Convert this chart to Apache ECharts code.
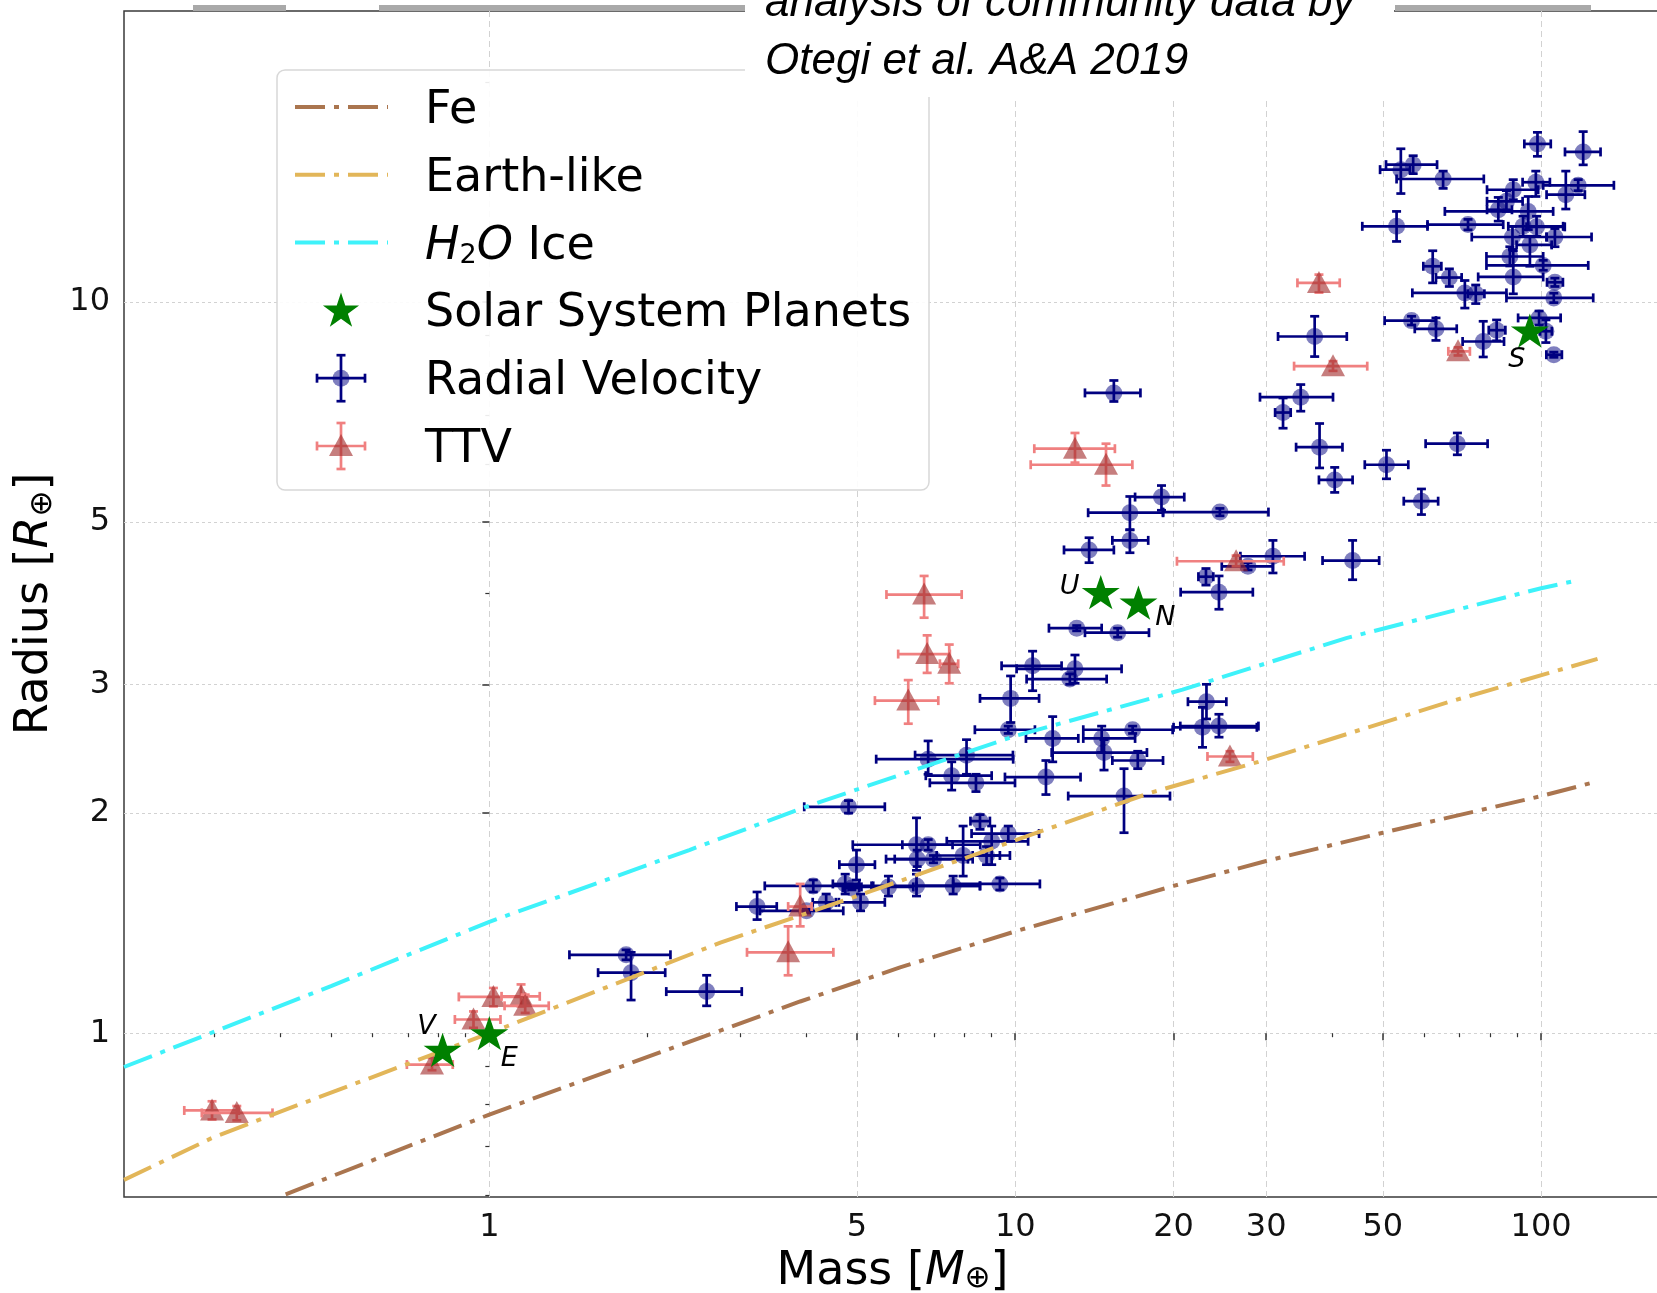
<!DOCTYPE html>
<html>
<head>
<meta charset="utf-8">
<script src="https://cdn.jsdelivr.net/npm/echarts@6/dist/echarts.min.js"></script>
<style>
  html, body { margin: 0; padding: 0; background: #fff; }
  #chart { width: 1657px; height: 1293px; }
</style>
</head>
<body>
<div id="chart"></div>
<script>
// axis ranges and ticks (Earth units)
var massMin = 0.202, massMax = 169;
var radMin = 0.597, radMax = 25;
var massTicks = [1, 5, 10, 20, 30, 50, 100];
var massMinorTicks = [0.3, 0.4, 0.5, 0.6, 0.7, 0.8, 0.9, 2, 3, 4, 6, 7, 8, 9, 40, 60, 70, 80, 90];
var radTicks = [1, 2, 3, 5, 10];
var radMinorTicks = [0.6, 0.7, 0.8, 0.9, 4, 6, 7, 8, 9, 20];

// composition models
var feMass = [0.41, 1, 3.9, 6.04, 10, 20, 30, 50, 100, 128];
var feRadius = [0.602, 0.774, 1.105, 1.23, 1.378, 1.59, 1.72, 1.88, 2.11, 2.21];
var earthMass = [0.202, 0.297, 0.38, 1, 2.75, 5, 11, 18, 29, 67, 128];
var earthRadius = [0.63, 0.719, 0.77, 1.0, 1.33, 1.54, 1.88, 2.13, 2.35, 2.84, 3.25];
var iceMass = [0.202, 0.5, 1, 2.4, 4, 10, 20.8, 42.6, 100, 117];
var iceRadius = [0.899, 1.16, 1.42, 1.78, 2.04, 2.55, 2.95, 3.47, 4.06, 4.16];

// solar system planets
var planetNames = ['V', 'E', 'U', 'N', 'S'];
var planetMass = [0.815, 1, 14.54, 17.15, 95.16];
var planetRadius = [0.949, 1, 4.01, 3.88, 9.14];

// radial velocity planets: value, lower and upper end of the error bars
var rvMass = [98.4, 120.2, 54.1, 57.1, 65.1, 88.5, 97.7, 111.4, 117.6, 85.9, 82.9, 94.5, 53.1, 72.6, 92.4, 98, 88.2, 106.2, 95.2, 87.2, 100.9, 88.5, 106.2, 105.7, 62.2, 66.9, 71.6, 75.1, 56.7, 63.1, 77.6, 82.3, 99.1, 102.1, 105.7, 37.1, 15.4, 34.9, 32.3, 37.9, 50.8, 69.3, 40.5, 59.2, 18.97, 16.52, 24.5, 16.52, 13.82, 30.9, 27.7, 43.8, 23.05, 24.4, 13.09, 15.66, 10.79, 12.99, 12.7, 9.8, 9.7, 11.78, 14.6, 16.72, 14.75, 17.1, 6.83, 8.08, 7.57, 8.42, 11.44, 16.1, 23.1, 22.7, 24.4, 4.82, 8.57, 9.7, 9.02, 6.49, 6.83, 7.96, 8.82, 6.51, 6.99, 4.99, 4.13, 4.75, 4.89, 5.74, 6.49, 7.62, 9.35, 3.23, 4.01, 4.37, 5.08, 1.82, 1.86, 2.59];
var rvRadius = [16.45, 16.04, 15.17, 15.41, 14.73, 14.24, 14.58, 14.02, 14.44, 13.73, 13.37, 13.3, 12.69, 12.76, 12.69, 12.67, 12.27, 12.27, 11.97, 11.54, 11.22, 10.82, 10.64, 10.13, 11.19, 10.8, 10.29, 10.26, 9.43, 9.19, 8.83, 9.15, 9.51, 9.12, 8.47, 8.97, 7.51, 7.41, 7.06, 6.33, 5.99, 6.4, 5.71, 5.34, 5.41, 5.15, 5.16, 4.72, 4.58, 4.49, 4.35, 4.43, 4.21, 4.01, 3.58, 3.53, 3.18, 3.15, 3.05, 2.87, 2.6, 2.53, 2.53, 2.6, 2.42, 2.36, 2.37, 2.4, 2.25, 2.2, 2.24, 2.11, 2.84, 2.62, 2.63, 2.04, 1.95, 1.875, 1.83, 1.81, 1.81, 1.75, 1.75, 1.73, 1.73, 1.7, 1.59, 1.6, 1.58, 1.585, 1.59, 1.59, 1.6, 1.49, 1.47, 1.51, 1.51, 1.28, 1.21, 1.14];
var rvMassLow = [92.9, 111, 49.4, 50.7, 53.1, 78.9, 92.2, 102.4, 100.9, 78.9, 78.9, 65.6, 45.7, 60.8, 86.6, 93.8, 73.8, 102.4, 89.8, 78.7, 78.7, 75.9, 102.6, 85.9, 59.7, 63.1, 56.9, 72.5, 50.4, 57.5, 70.9, 79.5, 90.4, 99.5, 102.3, 31.6, 13.57, 29.2, 31.2, 34.2, 46.2, 60.3, 37.8, 54.8, 16.9, 13.76, 19.1, 15.3, 12.38, 26.8, 24.7, 38.4, 22.3, 20.63, 11.59, 13.57, 9.42, 10.06, 10.51, 8.57, 8.38, 10.48, 13.47, 13.47, 11.73, 15.3, 5.44, 6.45, 6.76, 6.88, 9.56, 12.61, 21.3, 20, 20.6, 3.97, 8.22, 8.26, 7.41, 4.91, 6.1, 7.09, 8.3, 5.68, 5.9, 4.63, 3.34, 4.5, 4.7, 5.1, 5.37, 6.49, 7.62, 2.95, 3.27, 4.12, 4.56, 1.42, 1.61, 2.17];
var rvMassHigh = [104.3, 129.7, 56.3, 63.4, 77.8, 98.7, 103.9, 121.1, 137.5, 92.2, 88, 105.4, 60.8, 84.7, 110.1, 110.9, 102.4, 124.7, 104.7, 100.9, 122.9, 100.9, 110, 125.6, 64.6, 70.6, 85.9, 78, 63.1, 69.1, 85, 85.5, 108.9, 104.8, 109.5, 42.7, 17.3, 40.2, 33.4, 41.9, 55.9, 79.1, 43.8, 63.7, 20.96, 19.1, 30.3, 17.9, 15.4, 35.5, 30.9, 49.2, 23.8, 28.3, 14.6, 17.96, 12.25, 15.93, 14.92, 11.1, 10.9, 13.18, 16.9, 19.92, 17.8, 19.1, 9.91, 9.9, 9.02, 9.99, 13.31, 19.69, 25.2, 28.8, 29, 5.65, 8.95, 11.1, 10.58, 8.58, 7.6, 9.77, 9.35, 8.13, 8.3, 5.41, 5.33, 5.05, 5.05, 6.4, 8.57, 8.57, 11.14, 3.52, 4.71, 4.62, 5.65, 2.21, 2.16, 3.02];
var rvRadiusLow = [15.82, 15.4, 14.07, 14.98, 14.3, 13.8, 13.94, 13.4, 14.2, 13.3, 12.9, 12.56, 12.1, 12.55, 12.3, 12.3, 11.8, 11.9, 11.19, 11.2, 11.05, 10.26, 10.5, 9.98, 10.62, 10.5, 9.81, 9.95, 9.3, 8.86, 8.41, 8.85, 9.3, 8.8, 8.4, 8.42, 7.31, 7.09, 6.72, 5.93, 5.73, 6.18, 5.49, 5.12, 5.19, 4.88, 5.1, 4.54, 4.4, 4.26, 4.3, 4.17, 4.1, 3.8, 3.55, 3.48, 2.94, 3.01, 3.0, 2.66, 2.57, 2.35, 2.42, 2.57, 2.29, 2.3, 2.26, 2.26, 2.15, 2.14, 2.12, 1.88, 2.69, 2.46, 2.54, 2.0, 1.9, 1.83, 1.7, 1.67, 1.78, 1.64, 1.7, 1.69, 1.71, 1.62, 1.56, 1.55, 1.57, 1.54, 1.54, 1.55, 1.57, 1.43, 1.46, 1.48, 1.47, 1.26, 1.11, 1.09];
var rvRadiusHigh = [17.06, 17.1, 16.2, 15.85, 15.1, 14.7, 15.1, 15.1, 14.7, 14.2, 13.9, 13.94, 13.3, 12.97, 13.1, 13.1, 12.69, 12.6, 12.3, 11.9, 11.4, 11.75, 10.78, 10.28, 11.75, 11.1, 10.7, 10.55, 9.56, 9.51, 9.41, 9.45, 9.72, 9.45, 8.54, 9.56, 7.81, 7.71, 7.39, 6.82, 6.27, 6.62, 5.94, 5.55, 5.61, 5.42, 5.22, 4.88, 4.76, 4.72, 4.4, 4.72, 4.32, 4.22, 3.61, 3.58, 3.33, 3.29, 3.1, 3.08, 2.63, 2.71, 2.63, 2.63, 2.52, 2.43, 2.51, 2.52, 2.35, 2.26, 2.36, 2.3, 3.0, 2.79, 2.73, 2.08, 1.99, 1.92, 1.92, 1.97, 1.84, 1.92, 1.8, 1.78, 1.75, 1.78, 1.62, 1.65, 1.59, 1.64, 1.65, 1.64, 1.63, 1.56, 1.48, 1.55, 1.55, 1.3, 1.29, 1.2];

// transit timing variation planets
var ttvMass = [0.297, 0.331, 0.778, 0.933, 1.018, 1.149, 1.17, 3.9, 3.7, 6.26, 6.8, 7.49, 6.71, 12.99, 14.88, 26.3, 25.6, 40.2, 37.8, 69.5];
var ttvRadius = [0.784, 0.778, 0.906, 1.044, 1.121, 1.123, 1.09, 1.49, 1.29, 2.85, 3.3, 3.2, 3.98, 6.3, 5.99, 4.42, 2.39, 8.17, 10.62, 8.56];
var ttvMassLow = [0.263, 0.284, 0.697, 0.86, 0.875, 1.055, 1.069, 3.7, 3.09, 5.41, 5.99, 7.19, 5.69, 10.87, 10.7, 20.3, 23.2, 33.9, 34.4, 66.6];
var ttvMassHigh = [0.334, 0.387, 0.852, 1.05, 1.17, 1.247, 1.297, 4.1, 4.51, 7.14, 7.51, 7.79, 7.91, 15.47, 16.7, 32.4, 28.3, 46.7, 41.4, 73.2];
var ttvRadiusLow = [0.762, 0.76, 0.89, 1.017, 1.088, 1.088, 1.066, 1.4, 1.2, 2.65, 3.11, 3.01, 3.7, 6.03, 5.61, 4.35, 2.35, 8.05, 10.3, 8.45];
var ttvRadiusHigh = [0.807, 0.795, 0.925, 1.071, 1.153, 1.166, 1.129, 1.6, 1.4, 3.04, 3.5, 3.4, 4.22, 6.62, 6.4, 4.5, 2.43, 8.3, 10.9, 8.67];

var lg = Math.log10;
var FONT = 'DejaVu Sans';
var feColor = '#aa754f', earthColor = '#e2b659', iceColor = '#3ef2fa';
var rvColor = '#000080', ttvBarColor = '#f08080';
var dashDot = [30, 9, 5, 9];

function curve(mass, rad) {
  return mass.map(function (m, i) { return [lg(m), lg(rad[i])]; });
}

function errorRows(m, r, mLo, mHi, rLo, rHi) {
  return m.map(function (v, i) {
    return [lg(v), lg(r[i]), lg(mLo[i]), lg(mHi[i]), lg(rLo[i]), lg(rHi[i])];
  });
}

function seg(x1, y1, x2, y2, color) {
  return { type: 'line', shape: { x1: x1, y1: y1, x2: x2, y2: y2 }, style: { stroke: color, lineWidth: 2.7 } };
}

// error bars with caps, marker drawn on top
function errorBars(barColor, marker) {
  return function (params, api) {
    var x = api.value(0), y = api.value(1);
    var c = api.coord([x, y]);
    var xl = api.coord([api.value(2), y])[0], xh = api.coord([api.value(3), y])[0];
    var yl = api.coord([x, api.value(4)])[1], yh = api.coord([x, api.value(5)])[1];
    var cap = 4.5;
    return {
      type: 'group',
      children: [
        seg(xl, c[1], xh, c[1], barColor),
        seg(c[0], yl, c[0], yh, barColor),
        seg(xl, c[1] - cap, xl, c[1] + cap, barColor),
        seg(xh, c[1] - cap, xh, c[1] + cap, barColor),
        seg(c[0] - cap, yl, c[0] + cap, yl, barColor),
        seg(c[0] - cap, yh, c[0] + cap, yh, barColor),
        marker(c[0], c[1])
      ]
    };
  };
}

function rvMarker(cx, cy) {
  return { type: 'circle', shape: { cx: cx, cy: cy, r: 8.5 }, style: { fill: 'rgba(0,0,128,0.5)' } };
}
function ttvMarker(cx, cy) {
  return { type: 'polygon', shape: { points: [[cx, cy - 12], [cx - 12, cy + 10], [cx + 12, cy + 10]] },
    style: { fill: 'rgba(160,40,40,0.6)' } };
}

function tickFmt(v) { return String(Math.round(Math.pow(10, v))); }

var starPath = 'path://M0,-100L22.45,-30.9L95.1,-30.9L36.33,11.8L58.78,80.9L0,38.2L-58.78,80.9L-36.33,11.8L-95.1,-30.9L-22.45,-30.9Z';
var planetLabelOffset = { V: [-16, -23], E: [20, 26], U: [-31, -5], N: [27, 15], S: [-13, 29] };

var nameRich = {
  i: { fontStyle: 'italic', fontSize: 46, fontFamily: FONT, color: '#000', lineHeight: 46 },
  s: { fontSize: 31, fontFamily: FONT, color: '#000', lineHeight: 16, verticalAlign: 'bottom' }
};

// legend drawn by hand so the errorbar icons look like the original
function starPoints(cx, cy, R) {
  var pts = [];
  for (var k = 0; k < 10; k++) {
    var rr = k % 2 === 0 ? R : R * 0.382;
    var a = -Math.PI / 2 + k * Math.PI / 5;
    pts.push([cx + rr * Math.cos(a), cy + rr * Math.sin(a)]);
  }
  return pts;
}
function legendCross(cx, cy, color, lw) {
  var st = function () { return { stroke: color, lineWidth: lw }; };
  return [
    { type: 'line', shape: { x1: cx - 24, y1: cy, x2: cx + 24, y2: cy }, style: st(), z: 62 },
    { type: 'line', shape: { x1: cx, y1: cy - 23, x2: cx, y2: cy + 23 }, style: st(), z: 62 },
    { type: 'line', shape: { x1: cx - 24, y1: cy - 4.5, x2: cx - 24, y2: cy + 4.5 }, style: st(), z: 62 },
    { type: 'line', shape: { x1: cx + 24, y1: cy - 4.5, x2: cx + 24, y2: cy + 4.5 }, style: st(), z: 62 },
    { type: 'line', shape: { x1: cx - 4.5, y1: cy - 23, x2: cx + 4.5, y2: cy - 23 }, style: st(), z: 62 },
    { type: 'line', shape: { x1: cx - 4.5, y1: cy + 23, x2: cx + 4.5, y2: cy + 23 }, style: st(), z: 62 }
  ];
}

var legendX = 277, legendY = 70, rowY0 = 111, rowStep = 67.8, iconX = 341, textX = 425;
var legendFont = '46px "' + FONT + '"';
var graphics = [
  // faint slide remnants above the frame
  { type: 'rect', shape: { x: 193, y: 5, width: 93, height: 6 }, style: { fill: '#a9a9a9' }, z: 40 },
  { type: 'rect', shape: { x: 379, y: 5, width: 366, height: 6 }, style: { fill: '#a9a9a9' }, z: 40 },
  { type: 'rect', shape: { x: 1395, y: 5, width: 196, height: 6 }, style: { fill: '#a9a9a9' }, z: 40 },
  { type: 'rect', shape: { x: legendX, y: legendY, width: 652, height: 420, r: 8 },
    style: { fill: 'rgba(255,255,255,0.9)', stroke: '#d8d8d8', lineWidth: 1.5 }, z: 60 }
];
[['Fe', feColor], ['Earth-like', earthColor]].forEach(function (it, i) {
  var y = rowY0 + i * rowStep;
  graphics.push({ type: 'line', shape: { x1: 295, y1: y - 4, x2: 388, y2: y - 4 },
    style: { stroke: it[1], lineWidth: 4, lineDash: dashDot }, z: 61 });
  graphics.push({ type: 'text', x: textX, y: y, style: { text: it[0], font: legendFont, fill: '#000', verticalAlign: 'middle' }, z: 61 });
});
(function () {
  var y = rowY0 + 2 * rowStep;
  graphics.push({ type: 'line', shape: { x1: 295, y1: y - 4, x2: 388, y2: y - 4 },
    style: { stroke: iceColor, lineWidth: 4, lineDash: dashDot }, z: 61 });
  graphics.push({ type: 'text', x: textX, y: y, z: 61, style: {
    text: '{i|H}{s|2}{i|O}{n| Ice}', verticalAlign: 'middle', fill: '#000',
    rich: {
      i: { fontStyle: 'italic', fontSize: 46, fontFamily: FONT, lineHeight: 46, fill: '#000' },
      n: { fontSize: 46, fontFamily: FONT, lineHeight: 46, fill: '#000' },
      s: { fontSize: 27, fontFamily: FONT, lineHeight: 18, verticalAlign: 'bottom', fill: '#000' }
    }
  } });
  var ys = rowY0 + 3 * rowStep;
  graphics.push({ type: 'polygon', shape: { points: starPoints(iconX, ys - 3, 19) }, style: { fill: '#008000' }, z: 62 });
  graphics.push({ type: 'text', x: textX, y: ys, style: { text: 'Solar System Planets', font: legendFont, fill: '#000', verticalAlign: 'middle' }, z: 61 });
  var yr = rowY0 + 4 * rowStep;
  legendCross(iconX, yr - 4, rvColor, 2.7).forEach(function (g) { graphics.push(g); });
  graphics.push({ type: 'circle', shape: { cx: iconX, cy: yr - 4, r: 8.5 }, style: { fill: 'rgba(0,0,128,0.5)' }, z: 62 });
  graphics.push({ type: 'text', x: textX, y: yr, style: { text: 'Radial Velocity', font: legendFont, fill: '#000', verticalAlign: 'middle' }, z: 61 });
  var yt = rowY0 + 5 * rowStep;
  legendCross(iconX, yt - 4, ttvBarColor, 2.7).forEach(function (g) { graphics.push(g); });
  graphics.push({ type: 'polygon', shape: { points: [[iconX, yt - 16], [iconX - 12, yt + 6], [iconX + 12, yt + 6]] },
    style: { fill: 'rgba(160,40,40,0.6)' }, z: 62 });
  graphics.push({ type: 'text', x: textX, y: yt, style: { text: 'TTV', font: legendFont, fill: '#000', verticalAlign: 'middle' }, z: 61 });
})();
// pasted caption box
graphics.push({ type: 'rect', shape: { x: 745, y: 0, width: 649, height: 97 }, style: { fill: '#fff' }, z: 70 });
graphics.push({ type: 'text', x: 765, y: 4, style: { text: 'analysis of community data by',
  font: 'italic 44px "Liberation Sans"', fill: '#000', verticalAlign: 'middle' }, z: 71 });
graphics.push({ type: 'text', x: 765, y: 62, style: { text: 'Otegi et al. A&A 2019',
  font: 'italic 44px "Liberation Sans"', fill: '#000', verticalAlign: 'middle' }, z: 71 });

var chart = echarts.init(document.getElementById('chart'));

var option = {
  animation: false,
  backgroundColor: '#fff',
  grid: { left: 124, right: -4, top: 11, bottom: 96, outerBoundsMode: 'none',
    show: true, borderColor: '#3a3a3a', borderWidth: 1.5 },
  xAxis: [{
    type: 'value', min: lg(massMin), max: lg(massMax),
    axisLine: { show: false },
    axisTick: { show: true, customValues: massTicks.map(lg), length: 7, lineStyle: { color: '#333', width: 1.5 } },
    axisLabel: { customValues: massTicks.map(lg), formatter: tickFmt, fontSize: 32, fontFamily: FONT, color: '#111', margin: 15 },
    splitLine: { show: true, lineStyle: { color: '#d2d2d2', width: 1, type: [6, 4] } },
    name: 'Mass [{i|M}{s|⊕}]', nameLocation: 'middle', nameGap: 46,
    nameTextStyle: { fontSize: 46, fontFamily: FONT, color: '#000', rich: nameRich }
  }, {
    type: 'value', min: lg(massMin), max: lg(massMax), position: 'bottom',
    axisLine: { show: false }, axisLabel: { show: false }, splitLine: { show: false },
    axisTick: { show: true, customValues: massMinorTicks.map(lg), length: 4, lineStyle: { color: '#333', width: 1.2 } }
  }],
  yAxis: [{
    type: 'value', min: lg(radMin), max: lg(radMax),
    axisLine: { show: false },
    axisTick: { show: true, customValues: radTicks.map(lg), length: 7, lineStyle: { color: '#333', width: 1.5 } },
    axisLabel: { customValues: radTicks.map(lg), formatter: tickFmt, fontSize: 32, fontFamily: FONT, color: '#111', margin: 14,
      padding: [5, 0, 0, 0] },
    splitLine: { show: true, lineStyle: { color: '#d2d2d2', width: 1, type: [3, 3] } },
    name: 'Radius [{i|R}{s|⊕}]', nameLocation: 'middle', nameGap: 62, nameRotate: 90,
    nameTextStyle: { fontSize: 46, fontFamily: FONT, color: '#000', rich: nameRich }
  }, {
    type: 'value', min: lg(radMin), max: lg(radMax), position: 'left',
    axisLine: { show: false }, axisLabel: { show: false }, splitLine: { show: false },
    axisTick: { show: true, customValues: radMinorTicks.map(lg), length: 4, lineStyle: { color: '#333', width: 1.2 } }
  }],
  series: [
    {
      name: 'Radial Velocity', type: 'custom', clip: true, z: 3,
      renderItem: errorBars(rvColor, rvMarker),
      encode: { x: 0, y: 1 },
      data: errorRows(rvMass, rvRadius, rvMassLow, rvMassHigh, rvRadiusLow, rvRadiusHigh)
    },
    {
      name: 'TTV', type: 'custom', clip: true, z: 4,
      renderItem: errorBars(ttvBarColor, ttvMarker),
      encode: { x: 0, y: 1 },
      data: errorRows(ttvMass, ttvRadius, ttvMassLow, ttvMassHigh, ttvRadiusLow, ttvRadiusHigh)
    },
    { name: 'Fe', type: 'line', z: 5, showSymbol: false, smooth: false, clip: true,
      lineStyle: { color: feColor, width: 4, type: dashDot }, data: curve(feMass, feRadius) },
    { name: 'Earth-like', type: 'line', z: 5, showSymbol: false, smooth: false, clip: true,
      lineStyle: { color: earthColor, width: 4, type: dashDot }, data: curve(earthMass, earthRadius) },
    { name: 'H2O Ice', type: 'line', z: 5, showSymbol: false, smooth: false, clip: true,
      lineStyle: { color: iceColor, width: 4, type: dashDot }, data: curve(iceMass, iceRadius) },
    {
      name: 'Solar System Planets', type: 'scatter', z: 6,
      symbol: starPath, symbolSize: [38, 36], symbolKeepAspect: true,
      itemStyle: { color: '#008000', opacity: 1 },
      data: planetNames.map(function (n, i) {
        return {
          value: [lg(planetMass[i]), lg(planetRadius[i])], name: n,
          label: { show: true, formatter: n, position: 'inside', offset: planetLabelOffset[n],
            fontSize: 27, fontStyle: 'italic', fontFamily: FONT, color: '#000' }
        };
      })
    }
  ],
  graphic: graphics
};

chart.setOption(option);
</script>
</body>
</html>
